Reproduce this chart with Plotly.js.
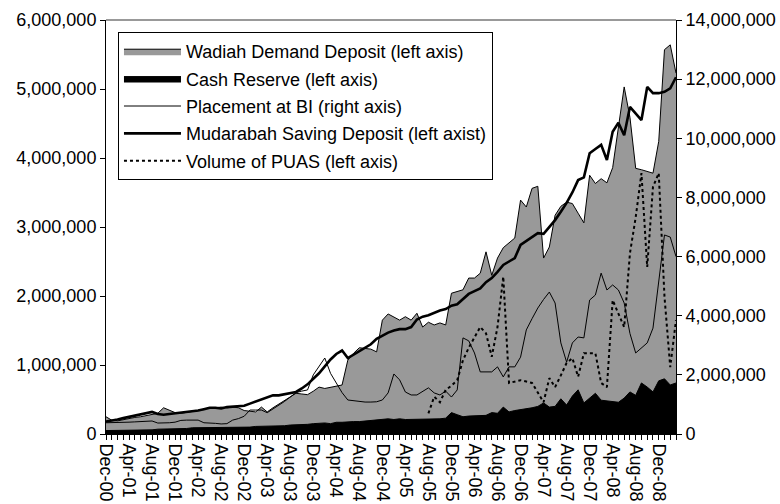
<!DOCTYPE html>
<html><head><meta charset="utf-8">
<script src="https://cdn.plot.ly/plotly-3.0.1.min.js"></script>
<style>html,body{margin:0;padding:0;background:#fff}#chart{width:780px;height:504px}</style>
</head><body><div id="chart"></div>
<script>
const categories = ['Dec-00',
 'Jan-01','Feb-01','Mar-01','Apr-01','May-01','Jun-01','Jul-01','Aug-01','Sep-01','Oct-01','Nov-01','Dec-01',
 'Jan-02','Feb-02','Mar-02','Apr-02','May-02','Jun-02','Jul-02','Aug-02','Sep-02','Oct-02','Nov-02','Dec-02',
 'Jan-03','Feb-03','Mar-03','Apr-03','May-03','Jun-03','Jul-03','Aug-03','Sep-03','Oct-03','Nov-03','Dec-03',
 'Jan-04','Feb-04','Mar-04','Apr-04','May-04','Jun-04','Jul-04','Aug-04','Sep-04','Oct-04','Nov-04','Dec-04',
 'Jan-05','Feb-05','Mar-05','Apr-05','May-05','Jun-05','Jul-05','Aug-05','Sep-05','Oct-05','Nov-05','Dec-05',
 'Jan-06','Feb-06','Mar-06','Apr-06','May-06','Jun-06','Jul-06','Aug-06','Sep-06','Oct-06','Nov-06','Dec-06',
 'Jan-07','Feb-07','Mar-07','Apr-07','May-07','Jun-07','Jul-07','Aug-07','Sep-07','Oct-07','Nov-07','Dec-07',
 'Jan-08','Feb-08','Mar-08','Apr-08','May-08','Jun-08','Jul-08','Aug-08','Sep-08','Oct-08','Nov-08','Dec-08',
 'Jan-09','Feb-09','Mar-09'];

const tickLabels = ['Dec-00','Apr-01','Aug-01','Dec-01','Apr-02','Aug-02','Dec-02','Apr-03','Aug-03','Dec-03',
 'Apr-04','Aug-04','Dec-04','Apr-05','Aug-05','Dec-05','Apr-06','Aug-06','Dec-06','Apr-07','Aug-07','Dec-07',
 'Apr-08','Aug-08','Dec-08'];

// Wadiah Demand Deposit (left axis)
const wadiah = [250000,200000,190000,210000,230000,240000,250000,270000,280000,300000,
 380000,340000,310000,300000,310000,330000,340000,360000,380000,380000,
 390000,380000,390000,380000,340000,330000,320000,390000,320000,380000,
 430000,480000,530000,590000,580000,570000,620000,680000,660000,680000,
 700000,710000,1070000,1170000,1250000,1240000,1230000,1190000,1650000,1740000,
 1700000,1650000,1700000,1650000,1750000,1550000,1620000,1580000,1610000,1580000,
 2040000,2060000,2090000,2260000,2260000,2330000,2640000,2300000,2550000,2700000,
 2770000,2840000,3390000,3290000,3560000,3590000,2550000,2710000,3170000,3300000,
 3360000,3340000,3200000,3060000,3750000,3630000,3700000,3640000,3860000,4480000,
 5030000,4590000,3850000,3830000,3810000,3780000,4240000,5570000,5640000,5230000];

// Cash Reserve (left axis)
const cashReserve = [50000,50000,50000,50000,50000,60000,60000,60000,60000,70000,
 70000,80000,80000,80000,80000,90000,90000,90000,90000,100000,
 100000,100000,100000,100000,100000,100000,110000,110000,110000,120000,
 120000,120000,130000,130000,130000,140000,150000,160000,160000,150000,
 170000,170000,180000,180000,180000,190000,190000,200000,220000,220000,
 210000,220000,210000,210000,220000,220000,220000,220000,220000,230000,
 310000,280000,250000,260000,260000,270000,270000,310000,300000,390000,
 320000,340000,350000,370000,380000,400000,450000,390000,400000,510000,
 420000,550000,640000,450000,520000,590000,490000,480000,480000,460000,
 520000,610000,560000,740000,680000,610000,770000,800000,710000,740000];

// Placement at BI (right axis)
const placementBI = [380000,380000,390000,400000,400000,410000,420000,430000,440000,370000,
 370000,380000,400000,460000,470000,470000,470000,380000,380000,360000,
 340000,350000,470000,520000,600000,810000,810000,810000,720000,850000,
 950000,1100000,1250000,1400000,1450000,1490000,2000000,2300000,2570000,2050000,
 1700000,1400000,1150000,1120000,1090000,1080000,1080000,1090000,1150000,1390000,
 2030000,1830000,1420000,1320000,1320000,1450000,1560000,1390000,1320000,1450000,
 1250000,1490000,3250000,3150000,2740000,2100000,2100000,2100000,2270000,1930000,
 2270000,2270000,2600000,3520000,3900000,4260000,4550000,4800000,4430000,3080000,
 2430000,3080000,3280000,3250000,4530000,4700000,5440000,4870000,5040000,4870000,
 4430000,3400000,2740000,2900000,3080000,3580000,5200000,6730000,6660000,6000000];

// Mudarabah Saving Deposit (left axis)
const mudarabah = [180000,190000,210000,230000,250000,270000,280000,300000,320000,290000,
 280000,290000,300000,310000,310000,320000,340000,360000,380000,380000,
 370000,390000,400000,400000,410000,440000,470000,500000,530000,560000,
 560000,580000,600000,610000,660000,720000,800000,880000,980000,1080000,
 1160000,1210000,1100000,1150000,1200000,1250000,1300000,1380000,1430000,1470000,
 1500000,1520000,1520000,1550000,1660000,1700000,1720000,1760000,1790000,1810000,
 1860000,1880000,1950000,2030000,2070000,2110000,2200000,2260000,2350000,2450000,
 2500000,2550000,2740000,2800000,2860000,2910000,2900000,3000000,3100000,3220000,
 3350000,3500000,3680000,3720000,4070000,4130000,4190000,3970000,4380000,4510000,
 4330000,4740000,4640000,4550000,5030000,4940000,4940000,4960000,5010000,5170000];

// Volume of PUAS (left axis), from Aug-05 onward
const puasCategories = categories.slice(56);
const puas = [300000,540000,460000,640000,700000,780000,1070000,1250000,1400000,1550000,
 1460000,1120000,1550000,2280000,740000,760000,780000,760000,740000,600000,
 460000,810000,680000,850000,1030000,1100000,830000,1170000,1170000,1170000,
 740000,680000,1940000,1750000,1550000,2620000,3140000,3780000,2420000,3580000,
 3780000,1990000,970000,1650000];

const tickText = categories.map(c => tickLabels.includes(c) ? c : '');
const FONT = 'Arial, "Liberation Sans", sans-serif';

const traces = [
  {x: categories, y: wadiah, name: 'Wadiah Demand Deposit (left axis)', type: 'scatter', mode: 'lines',
   fill: 'tozeroy', fillcolor: '#999999', line: {color: '#000', width: 1}, legendgroup: 'a'},
  {x: categories, y: cashReserve, name: 'Cash Reserve (left axis)', type: 'scatter', mode: 'lines',
   fill: 'tozeroy', fillcolor: '#000000', line: {color: '#000', width: 1}, legendgroup: 'b'},
  {x: categories, y: placementBI, name: 'Placement at BI (right axis)', type: 'scatter', mode: 'lines',
   yaxis: 'y2', line: {color: '#000', width: 1}, legendgroup: 'c'},
  {x: categories, y: mudarabah, name: 'Mudarabah Saving Deposit (left axist)', type: 'scatter', mode: 'lines',
   line: {color: '#000', width: 2.6}, legendgroup: 'd'},
  {x: puasCategories, y: puas, name: 'Volume of PUAS (left axis)', type: 'scatter', mode: 'lines',
   line: {color: '#000', width: 2, dash: 'dot'}, legendgroup: 'e'}
];

const layout = {
  width: 780, height: 504,
  margin: {l: 106, r: 104, t: 20, b: 70},
  paper_bgcolor: '#fff', plot_bgcolor: '#fff',
  font: {family: FONT, size: 18, color: '#000'},
  showlegend: true,
  legend: {x: 0.021, y: 0.971, xanchor: 'left', yanchor: 'top', bgcolor: '#fff',
    bordercolor: '#000', borderwidth: 1, font: {family: FONT, size: 18, color: '#000'},
    itemwidth: 57, traceorder: 'grouped', tracegroupgap: 1},
  xaxis: {type: 'category', range: [0, 99], tickmode: 'array', tickvals: categories, ticktext: tickText,
    tickangle: 90, ticks: 'outside', ticklen: 5, tickcolor: '#000', showline: true, linecolor: '#000',
    linewidth: 1, showgrid: false, zeroline: false, tickfont: {family: FONT, size: 18, color: '#000'}},
  yaxis: {range: [0, 6000000], dtick: 1000000, tickformat: ',d', ticks: 'outside', ticklen: 5,
    tickcolor: '#000', showline: true, linecolor: '#000', showgrid: false, zeroline: false,
    tickfont: {family: FONT, size: 18, color: '#000'}},
  yaxis2: {overlaying: 'y', side: 'right', range: [0, 14000000], dtick: 2000000, tickformat: ',d',
    ticks: 'outside', ticklen: 5, tickcolor: '#000', showline: true, linecolor: '#000', showgrid: false,
    zeroline: false, tickfont: {family: FONT, size: 18, color: '#000'}},
  shapes: [{type: 'line', xref: 'paper', yref: 'paper', x0: 0, x1: 1, y0: 1, y1: 1,
    line: {color: '#999', width: 2}}]
};

Plotly.newPlot('chart', traces, layout, {displayModeBar: false, staticPlot: true});
</script></body></html>
